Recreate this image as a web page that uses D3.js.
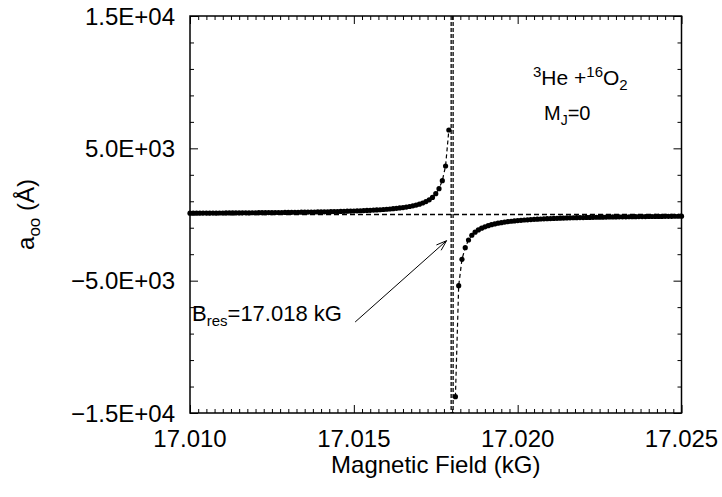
<!DOCTYPE html>
<html><head><meta charset="utf-8">
<script src="https://cdn.jsdelivr.net/npm/d3@7"></script>
<style>body{margin:0;background:#fff} text{font-family:"Liberation Sans",Arial,Helvetica,sans-serif;fill:#000}</style>
</head><body><svg id="c" width="722" height="497"></svg>
<script>
// ---- data ----
const fieldLow = [17.0100,17.0101,17.0102,17.0103,17.0104,17.0105,17.0106,17.0107,17.0108,17.0109,
17.0110,17.0111,17.0112,17.0113,17.0114,17.0115,17.0116,17.0117,17.0118,17.0119,
17.0120,17.0121,17.0122,17.0123,17.0124,17.0125,17.0126,17.0127,17.0128,17.0129,
17.0130,17.0131,17.0132,17.0133,17.0134,17.0135,17.0136,17.0137,17.0138,17.0139,
17.0140,17.0141,17.0142,17.0143,17.0144,17.0145,17.0146,17.0147,17.0148,17.0149,
17.0150,17.0151,17.0152,17.0153,17.0154,17.0155,17.0156,17.0157,17.0158,17.0159,
17.0160,17.0161,17.0162,17.0163,17.0164,17.0165,17.0166,17.0167,17.0168,17.0169,
17.0170,17.0171,17.0172,17.0173,17.0174,17.0175,17.0176,17.0177,17.0178,17.0179];
const aLow = [100,101,102,104,105,106,108,109,111,112,
114,116,117,119,121,123,125,127,129,131,
133,135,137,140,142,145,148,150,153,156,
159,163,166,169,173,177,181,185,190,194,
199,204,209,215,221,227,234,241,248,256,
265,274,284,294,305,317,331,345,360,377,
396,417,440,465,494,526,563,606,656,714,
784,870,976,1111,1290,1572,1950,2554,3665,6386];
const fieldHigh = [17.0181,17.0182,17.0183,17.0184,17.0185,17.0186,17.0187,17.0188,17.0189,17.0190,
17.0191,17.0192,17.0193,17.0194,17.0195,17.0196,17.0197,17.0198,17.0199,17.0200,
17.0201,17.0202,17.0203,17.0204,17.0205,17.0206,17.0207,17.0208,17.0209,17.0210,
17.0211,17.0212,17.0213,17.0214,17.0215,17.0216,17.0217,17.0218,17.0219,17.0220,
17.0221,17.0222,17.0223,17.0224,17.0225,17.0226,17.0227,17.0228,17.0229,17.0230,
17.0231,17.0232,17.0233,17.0234,17.0235,17.0236,17.0237,17.0238,17.0239,17.0240,
17.0241,17.0242,17.0243,17.0244,17.0245,17.0246,17.0247,17.0248,17.0249,17.0250];
const aHigh = [-13769,-5381,-3386,-2509,-1927,-1569,-1338,-1167,-1034,-929,
-843,-771,-711,-659,-615,-576,-542,-511,-484,-460,
-438,-417,-399,-382,-367,-353,-340,-327,-316,-305,
-295,-286,-277,-269,-261,-254,-247,-241,-235,-229,
-223,-218,-213,-208,-203,-199,-194,-190,-186,-183,
-179,-176,-172,-169,-166,-163,-160,-157,-155,-152,
-150,-147,-145,-143,-140,-138,-136,-134,-132,-130];
const xTickValues = [17.010, 17.015, 17.020, 17.025];
const xTickLabels = ["17.010", "17.015", "17.020", "17.025"];
const yTickValues = [15000, 5000, -5000, -15000];
const yTickLabels = ["1.5E+04", "5.0E+03", "\u22125.0E+03", "\u22121.5E+04"];
const resonanceLines = [17.01797, 17.01803];
const arrowFrom = [17.01504, -8124];
const arrowTo = [17.01783, -1980];

// ---- layout ----
const svg = d3.select("#c");
const L = 190, R = 681.5, T = 16, B = 413;
const x = d3.scaleLinear().domain([17.010, 17.025]).range([L, R]);
const y = d3.scaleLinear().domain([-15000, 15000]).range([B, T]);

const defs = svg.append("defs");
defs.append("clipPath").attr("id", "clip").append("rect")
  .attr("x", L).attr("y", T).attr("width", R - L).attr("height", B - T);

const xMinor = d3.range(0, 61).map(i => 17.010 + i * 0.00025);
const yMinor = d3.range(0, 16).map(i => -15000 + i * 2000);
const isMajX = v => xTickValues.some(t => Math.abs(t - v) < 1e-7);
const isMajY = v => yTickValues.some(t => Math.abs(t - v) < 1e-3);

function tickAxis(axisFn, scale, vals, tr, isMaj) {
  const g = svg.append("g").attr("transform", tr)
    .call(axisFn(scale).tickValues(vals).tickSizeOuter(0).tickFormat(""));
  g.select(".domain").remove();
  g.selectAll(".tick line").attr("stroke", "#000").attr("stroke-width", 1)
    .each(function(d) {
      const len = isMaj(d) ? 8 : 4;
      const sel = d3.select(this);
      if (axisFn === d3.axisBottom) sel.attr("y2", -len);
      else if (axisFn === d3.axisTop) sel.attr("y2", len);
      else if (axisFn === d3.axisLeft) sel.attr("x2", len);
      else sel.attr("x2", -len);
    });
}
tickAxis(d3.axisBottom, x, xMinor, `translate(0,${B})`, isMajX);
tickAxis(d3.axisTop, x, xMinor, `translate(0,${T})`, isMajX);
tickAxis(d3.axisLeft, y, yMinor, `translate(${L},0)`, isMajY);
tickAxis(d3.axisRight, y, yMinor, `translate(${R},0)`, isMajY);

// tick labels
svg.append("g").selectAll("text").data(xTickValues).join("text")
  .attr("x", d => x(d)).attr("y", B + 34).attr("text-anchor", "middle")
  .attr("font-size", 24).text((d, i) => xTickLabels[i]);
svg.append("g").selectAll("text").data(yTickValues).join("text")
  .attr("x", L - 15).attr("y", d => y(d)).attr("dy", "0.36em").attr("text-anchor", "end")
  .attr("font-size", 24).text((d, i) => yTickLabels[i]);

// axis titles
svg.append("text").attr("x", (L + R) / 2).attr("y", 473).attr("text-anchor", "middle")
  .attr("font-size", 24).text("Magnetic Field (kG)");
const yt = svg.append("text").attr("transform", `translate(34,${(T + B) / 2}) rotate(-90)`)
  .attr("text-anchor", "middle").attr("font-size", 24);
yt.append("tspan").text("a");
yt.append("tspan").attr("font-size", 17).attr("dy", 6).text("oo");
yt.append("tspan").attr("dy", -6).text(" (\u00C5)");

// plot content
const plot = svg.append("g").attr("clip-path", "url(#clip)");
plot.append("line").attr("x1", L).attr("x2", R).attr("y1", y(0)).attr("y2", y(0))
  .attr("stroke", "#000").attr("stroke-width", 1.5).attr("stroke-dasharray", "5,3");
plot.selectAll("line.res").data(resonanceLines).join("line").attr("class", "res")
  .attr("x1", d => x(d)).attr("x2", d => x(d)).attr("y1", T).attr("y2", B)
  .attr("stroke", "#000").attr("stroke-width", 1.3).attr("stroke-dasharray", "4,2");

const line = d3.line().x(d => x(d[0])).y(d => y(d[1]));
const branches = [fieldLow.map((f, i) => [f, aLow[i]]), fieldHigh.map((f, i) => [f, aHigh[i]])];
branches.forEach(pts => {
  plot.append("path").datum(pts).attr("d", line).attr("fill", "none")
    .attr("stroke", "#000").attr("stroke-width", 1.2).attr("stroke-dasharray", "4,3");
});

// frame
svg.append("rect").attr("x", L).attr("y", T).attr("width", R - L).attr("height", B - T)
  .attr("fill", "none").attr("stroke", "#000").attr("stroke-width", 1.5);

branches.forEach(pts => {
  svg.append("g").selectAll("circle").data(pts).join("circle")
    .attr("cx", d => x(d[0])).attr("cy", d => y(d[1])).attr("r", 2.6).attr("fill", "#000");
});

// annotations
const t1 = svg.append("text").attr("x", 533).attr("y", 85).attr("font-size", 21);
t1.append("tspan").attr("font-size", 15).attr("dy", -8).text("3");
t1.append("tspan").attr("dy", 8).text("He +");
t1.append("tspan").attr("font-size", 15).attr("dy", -8).text("16");
t1.append("tspan").attr("dy", 8).text("O");
t1.append("tspan").attr("font-size", 15).attr("dy", 5).text("2");

const t2 = svg.append("text").attr("x", 544).attr("y", 120).attr("font-size", 20);
t2.append("tspan").text("M");
t2.append("tspan").attr("font-size", 14).attr("dy", 5).text("J");
t2.append("tspan").attr("dy", -5).text("=0");

const t3 = svg.append("text").attr("x", 192).attr("y", 321).attr("font-size", 22);
t3.append("tspan").text("B");
t3.append("tspan").attr("font-size", 15).attr("dy", 5).text("res");
t3.append("tspan").attr("dy", -5).text("=17.018 kG");

// arrow
const ax1 = x(arrowFrom[0]), ay1 = y(arrowFrom[1]), ax2 = x(arrowTo[0]), ay2 = y(arrowTo[1]);
const ang = Math.atan2(ay2 - ay1, ax2 - ax1), hl = 11, ha = 0.33;
svg.append("path").attr("fill", "none").attr("stroke", "#000").attr("stroke-width", 1)
  .attr("d", `M${ax1},${ay1}L${ax2},${ay2}` +
    `M${ax2 - hl * Math.cos(ang - ha)},${ay2 - hl * Math.sin(ang - ha)}L${ax2},${ay2}` +
    `L${ax2 - hl * Math.cos(ang + ha)},${ay2 - hl * Math.sin(ang + ha)}`);
</script></body></html>
